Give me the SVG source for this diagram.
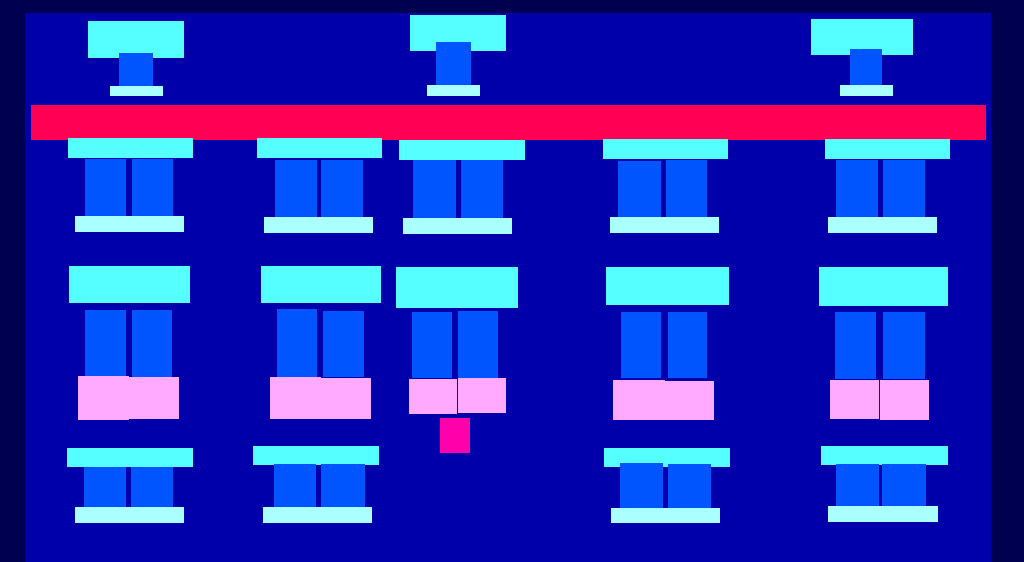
<svg xmlns="http://www.w3.org/2000/svg" width="1024" height="562" viewBox="0 0 1024 562">
<style>
.bg{fill:#000050}
.wall{fill:#0000AA}
.band{fill:#FF0055}
.lintel{fill:#55FFFF}
.pane{fill:#0055FF}
.sill{fill:#AAFFFF}
.box{fill:#FFAAFF}
.flower{fill:#FF00AA}
</style>
<rect class="bg" x="0" y="0" width="1024" height="562"/>
<rect class="wall" x="25" y="13" width="966" height="549"/>

<g id="top-window-1">
<rect class="lintel" x="88" y="21" width="96" height="37"/>
<rect class="pane" x="119" y="53" width="34" height="33"/>
<rect class="sill" x="110" y="86" width="53" height="10"/>
</g>
<g id="top-window-2">
<rect class="lintel" x="410" y="15" width="96" height="36"/>
<rect class="pane" x="436" y="42" width="35" height="43"/>
<rect class="sill" x="427" y="85" width="53" height="11"/>
</g>
<g id="top-window-3">
<rect class="lintel" x="811" y="19" width="102" height="36"/>
<rect class="pane" x="850" y="49" width="32" height="36"/>
<rect class="sill" x="840" y="85" width="53" height="11"/>
</g>

<rect id="band" class="band" x="31" y="105" width="955" height="35"/>

<g id="row1-window-1">
<rect class="lintel" x="68" y="138" width="125" height="20"/>
<rect class="pane" x="85" y="159" width="41" height="57"/>
<rect class="pane" x="132" y="159" width="41" height="57"/>
<rect class="sill" x="75" y="216" width="109" height="16"/>
</g>
<g id="row1-window-2">
<rect class="lintel" x="257" y="138" width="125" height="20"/>
<rect class="pane" x="275" y="160" width="42" height="57"/>
<rect class="pane" x="321" y="160" width="42" height="57"/>
<rect class="sill" x="264" y="217" width="109" height="16"/>
</g>
<g id="row1-window-3">
<rect class="lintel" x="399" y="140" width="126" height="20"/>
<rect class="pane" x="413" y="160" width="43" height="58"/>
<rect class="pane" x="461" y="160" width="42" height="58"/>
<rect class="sill" x="403" y="218" width="109" height="16"/>
</g>
<g id="row1-window-4">
<rect class="lintel" x="603" y="139" width="125" height="20"/>
<rect class="pane" x="618" y="161" width="43" height="56"/>
<rect class="pane" x="666" y="160" width="41" height="57"/>
<rect class="sill" x="610" y="217" width="109" height="16"/>
</g>
<g id="row1-window-5">
<rect class="lintel" x="825" y="139" width="125" height="20"/>
<rect class="pane" x="836" y="160" width="42" height="57"/>
<rect class="pane" x="883" y="160" width="42" height="57"/>
<rect class="sill" x="828" y="217" width="109" height="16"/>
</g>

<g id="row2-window-1">
<rect class="lintel" x="69" y="266" width="121" height="37"/>
<rect class="pane" x="85" y="310" width="41" height="67"/>
<rect class="pane" x="132" y="310" width="40" height="67"/>
<rect class="box" x="78" y="376" width="51" height="44"/>
<rect class="box" x="129" y="377" width="50" height="42"/>
</g>
<g id="row2-window-2">
<rect class="lintel" x="261" y="266" width="120" height="37"/>
<rect class="pane" x="277" y="309" width="40" height="68"/>
<rect class="pane" x="323" y="311" width="41" height="66"/>
<rect class="box" x="270" y="377" width="51" height="42"/>
<rect class="box" x="321" y="378" width="50" height="41"/>
</g>
<g id="row2-window-3">
<rect class="lintel" x="396" y="267" width="122" height="41"/>
<rect class="pane" x="412" y="312" width="40" height="66"/>
<rect class="pane" x="458" y="311" width="40" height="67"/>
<rect class="box" x="409" y="379" width="48" height="35"/>
<rect class="box" x="458" y="378" width="48" height="35"/>
<rect class="flower" x="440" y="418" width="30" height="35"/>
</g>
<g id="row2-window-4">
<rect class="lintel" x="606" y="267" width="123" height="38"/>
<rect class="pane" x="621" y="312" width="40" height="66"/>
<rect class="pane" x="668" y="312" width="39" height="66"/>
<rect class="box" x="613" y="380" width="52" height="40"/>
<rect class="box" x="665" y="381" width="49" height="39"/>
</g>
<g id="row2-window-5">
<rect class="lintel" x="819" y="267" width="129" height="39"/>
<rect class="pane" x="835" y="312" width="41" height="67"/>
<rect class="pane" x="883" y="312" width="42" height="67"/>
<rect class="box" x="830" y="380" width="49" height="39"/>
<rect class="box" x="880" y="380" width="49" height="40"/>
</g>

<g id="row3-window-1">
<rect class="lintel" x="67" y="448" width="126" height="19"/>
<rect class="pane" x="84" y="467" width="42" height="40"/>
<rect class="pane" x="131" y="467" width="42" height="40"/>
<rect class="sill" x="75" y="507" width="109" height="16"/>
</g>
<g id="row3-window-2">
<rect class="lintel" x="253" y="446" width="126" height="19"/>
<rect class="pane" x="274" y="464" width="42" height="43"/>
<rect class="pane" x="321" y="464" width="44" height="43"/>
<rect class="sill" x="263" y="507" width="109" height="16"/>
</g>
<g id="row3-window-4">
<rect class="lintel" x="604" y="448" width="126" height="19"/>
<rect class="pane" x="620" y="463" width="43" height="45"/>
<rect class="pane" x="668" y="464" width="43" height="44"/>
<rect class="sill" x="611" y="508" width="109" height="15"/>
</g>
<g id="row3-window-5">
<rect class="lintel" x="821" y="446" width="127" height="19"/>
<rect class="pane" x="836" y="464" width="43" height="42"/>
<rect class="pane" x="882" y="464" width="44" height="42"/>
<rect class="sill" x="828" y="506" width="110" height="16"/>
</g>
</svg>
